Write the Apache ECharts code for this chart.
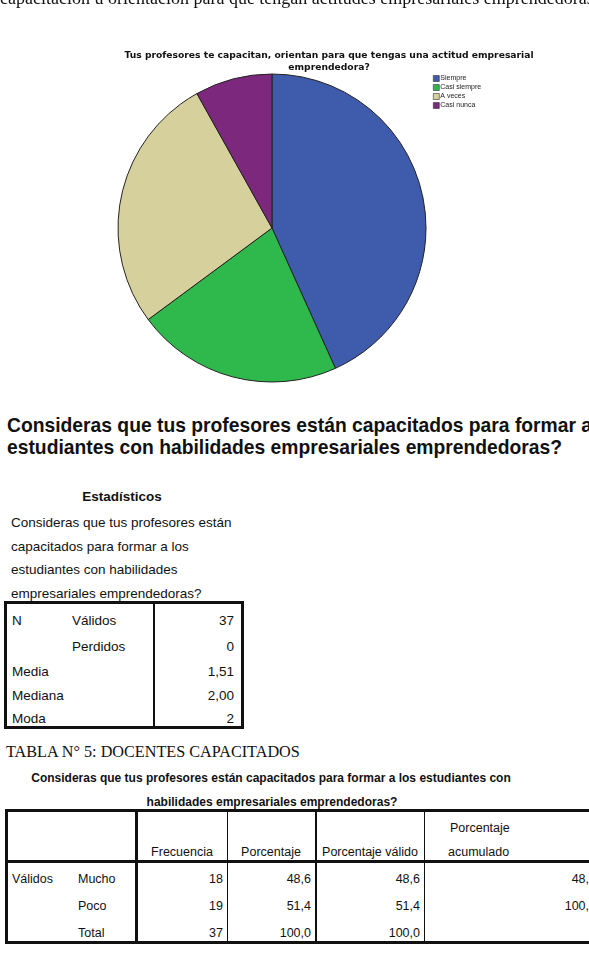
<!DOCTYPE html>
<html>
<head>
<meta charset="utf-8">
<script src="https://cdn.jsdelivr.net/npm/echarts@6/dist/echarts.min.js"></script>
<style>
body { margin: 0; background: #fff; }
#page { position: relative; width: 589px; height: 962px; overflow: hidden; font-family: "Liberation Sans", Arial, sans-serif; color: #111; }
#chart { position: absolute; left: 0; top: 0; width: 589px; height: 400px; }
.t { position: absolute; white-space: nowrap; }
.serif { font-family: "Liberation Serif", "Times New Roman", serif; }
.ln { position: absolute; background: #111; }
</style>
</head>
<body>
<div id="page">
  <div id="chart"></div>
</div>
<script>
// pie data
const categorias = ['Siempre', 'Casi siempre', 'A veces', 'Casi nunca']
const frecuencias = [16, 8, 10, 3]
const colores = ['#3F5BAB', '#2FB84B', '#D6D09C', '#7C297D']

// Estadisticos table
const statLabels = ['N', '', 'Media', 'Mediana', 'Moda']
const statSub = ['Válidos', 'Perdidos', '', '', '']
const statValues = ['37', '0', '1,51', '2,00', '2']

// frequency table
const freqCols = ['Frecuencia', 'Porcentaje', 'Porcentaje válido', 'Porcentaje\nacumulado']
const freqRows = ['Mucho', 'Poco', 'Total']
const freqN = ['18', '19', '37']
const freqPct = ['48,6', '51,4', '100,0']
const freqValid = ['48,6', '51,4', '100,0']
const freqCum = ['48,6', '100,0', '']

const page = document.getElementById('page')

// text helper, y = vertical center
function txt (x, y, s, opt) {
  opt = opt || {}
  const d = document.createElement('div')
  d.className = 't' + (opt.cls ? ' ' + opt.cls : '')
  const size = opt.size || 13
  const lh = opt.lh || size + 4
  d.style.fontSize = size + 'px'
  d.style.lineHeight = lh + 'px'
  if (opt.bold) d.style.fontWeight = 'bold'
  d.style.top = (y - lh / 2) + 'px'
  if (opt.align === 'right') {
    d.style.right = (589 - x) + 'px'
    d.style.textAlign = 'right'
  } else if (opt.align === 'center') {
    d.style.left = (x - 300) + 'px'
    d.style.width = '600px'
    d.style.textAlign = 'center'
  } else {
    d.style.left = x + 'px'
  }
  d.innerHTML = s
  page.appendChild(d)
  return d
}
function hline (x1, x2, y, w) {
  const d = document.createElement('div')
  d.className = 'ln'
  d.style.left = x1 + 'px'
  d.style.top = (y - w / 2) + 'px'
  d.style.width = (x2 - x1) + 'px'
  d.style.height = w + 'px'
  page.appendChild(d)
}
function vline (x, y1, y2, w) {
  const d = document.createElement('div')
  d.className = 'ln'
  d.style.left = (x - w / 2) + 'px'
  d.style.top = y1 + 'px'
  d.style.width = w + 'px'
  d.style.height = (y2 - y1) + 'px'
  page.appendChild(d)
}

// document text above / below the chart
txt(0, -2, 'capacitación u orientación para que tengan actitudes empresariales emprendedoras', { cls: 'serif', size: 18, lh: 18 })
txt(7, 426, 'Consideras que tus profesores están capacitados para formar a los', { size: 19.3, lh: 22, bold: true })
txt(7, 448, 'estudiantes con habilidades empresariales emprendedoras?', { size: 19.3, lh: 22, bold: true })

// Estadisticos
const st = 13.5
txt(122, 497, 'Estadísticos', { bold: true, align: 'center', size: st })
const statTitle = ['Consideras que tus profesores están', 'capacitados para formar a los', 'estudiantes con habilidades', 'empresariales emprendedoras?']
statTitle.forEach((s, i) => txt(11, 523 + i * 23.6, s, { size: st }))
const statY = [621, 647, 672, 696, 719]
statLabels.forEach((s, i) => {
  if (s) txt(12, statY[i], s, { size: st })
  if (statSub[i]) txt(72, statY[i], statSub[i], { size: st })
  txt(234, statY[i], statValues[i], { align: 'right', size: st })
})
hline(4, 244, 602, 3)
hline(4, 244, 727, 3)
vline(5, 601, 728, 3)
vline(242.5, 601, 728, 3)
vline(154, 601, 728, 2)

// TABLA 5
txt(6, 752, 'TABLA N° 5: DOCENTES CAPACITADOS', { cls: 'serif', size: 16.2, lh: 20 })
txt(271, 778, 'Consideras que tus profesores están capacitados para formar a los estudiantes con', { bold: true, size: 12, align: 'center' })
txt(272, 802, 'habilidades empresariales emprendedoras?', { bold: true, size: 12, align: 'center' })

const colCenters = [182, 271, 370]
freqCols.forEach((s, i) => {
  if (i < 3) txt(colCenters[i], 852, s, { size: 12.5, align: 'center' })
  else {
    const parts = s.split('\n')
    txt(450, 828, parts[0], { size: 12.5 })
    txt(448, 852, parts[1], { size: 12.5 })
  }
})
const rowY = [879, 906, 933]
txt(12, rowY[0], 'Válidos', { size: 12.5 })
freqRows.forEach((s, i) => {
  txt(78, rowY[i], s, { size: 12.5 })
  txt(223, rowY[i], freqN[i], { size: 12.5, align: 'right' })
  txt(311, rowY[i], freqPct[i], { size: 12.5, align: 'right' })
  txt(420, rowY[i], freqValid[i], { size: 12.5, align: 'right' })
  if (freqCum[i]) txt(596, rowY[i], freqCum[i], { size: 12.5, align: 'right' })
})
hline(5, 589, 810, 3)
hline(5, 589, 861.5, 3)
hline(5, 589, 942, 3)
vline(6.5, 809, 943, 3)
vline(136.5, 809, 943, 2.5)
vline(227.5, 809, 943, 1.2)
vline(316, 809, 943, 1.2)
vline(424.5, 809, 943, 1.2)

// pie chart
const chart = echarts.init(document.getElementById('chart'))
chart.setOption({
  animation: false,
  title: {
    text: 'Tus profesores te capacitan, orientan para que tengas una actitud empresarial\nemprendedora?',
    left: 324,
    top: 45,
    textAlign: 'center',
    textStyle: {
      fontFamily: 'DejaVu Sans',
      fontWeight: 'bold',
      fontSize: 9.2,
      lineHeight: 12,
      color: '#111'
    }
  },
  legend: {
    orient: 'vertical',
    left: 433,
    top: 75,
    itemWidth: 6,
    itemHeight: 6,
    itemGap: 2,
    icon: 'rect',
    padding: 0,
    itemStyle: { borderColor: '#333', borderWidth: 0.6 },
    textStyle: { fontFamily: 'Liberation Sans', fontSize: 7, lineHeight: 6, color: '#222', padding: [0, 0, 0, -4] },
    data: categorias
  },
  series: [{
    type: 'pie',
    center: [272, 228],
    radius: 154,
    startAngle: 90,
    clockwise: true,
    label: { show: false },
    labelLine: { show: false },
    emphasis: { disabled: true },
    itemStyle: { borderColor: '#222', borderWidth: 1 },
    data: categorias.map((c, i) => ({ name: c, value: frecuencias[i], itemStyle: { color: colores[i] } }))
  }]
})
</script>
</body>
</html>
